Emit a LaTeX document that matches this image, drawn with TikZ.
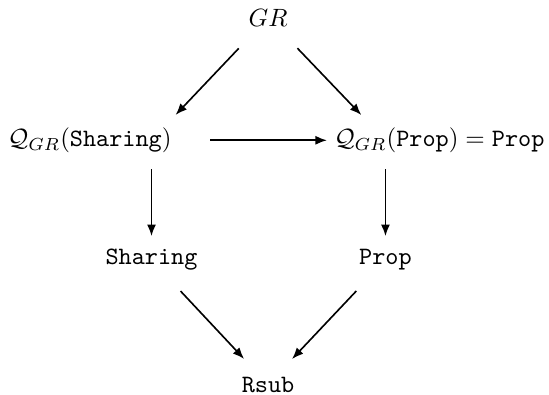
\documentclass[tikz,border=0pt]{standalone}
\usetikzlibrary{
  calc,
  arrows.meta}
\tikzset{
  %% term : one entry of the diagram
  term/.style={
    anchor=base,
    inner sep=0pt,
    align=center
  },
  %% arr : an arrow between two entries
  arr/.style={
    -{Latex[length=4.6pt,width=3.6pt]},
    line width=0.65pt
  },
  %% diag : slanted arrow, cut short at both ends
  diag/.style={
    arr,
    shorten <=17pt,
    shorten >=14pt
  },
  %% vert : vertical arrow
  vert/.style={
    arr,
    shorten <=11.5pt,
    shorten >=9.6pt
  },
  %% horiz : horizontal arrow
  horiz/.style={
    arr,
    shorten <=23.4pt,
    shorten >=23.4pt
  }
}

\begin{document}
\begin{tikzpicture}
  [x=1cm,
  y=-1cm]

  %% Grid for orientation. Comment out for final figure!
  % \draw[help lines, green](0, 0) grid (8, 6);
  \useasboundingbox (0, 0) rectangle (7.718, 5.553);

  %% Entries
  \node (gr) [term] at (3.768, 0.366) {$GR$};

  \node (qsharing) [term] at (1.320, 2.060) {%
    $\mathcal{Q}_{GR}(\texttt{Sharing})$
  };

  \node (qprop) [term] at (6.235, 2.060) {%
    $\mathcal{Q}_{GR}(\texttt{Prop}) = \texttt{Prop}$
  };

  \node (sharing) [term] at (2.130, 3.725) {\texttt{Sharing}};

  \node (prop) [term] at (5.419, 3.725) {\texttt{Prop}};

  \node (rsub) [term] at (3.768, 5.511) {\texttt{Rsub}};

  %% Connections
  \draw [diag] (gr.center) -- (qsharing.center -| sharing.center);
  \draw [diag] (gr.center) -- (qprop.center -| prop.center);
  \draw [horiz] (qsharing.center -| sharing.center)
  -- (qprop.center -| prop.center);
  \draw [vert] (qsharing.center -| sharing.center) -- (sharing.center);
  \draw [vert] (qprop.center -| prop.center) -- (prop.center);
  \draw [diag] (sharing.center) -- (rsub.center);
  \draw [diag] (prop.center) -- (rsub.center);

\end{tikzpicture}
\end{document}
